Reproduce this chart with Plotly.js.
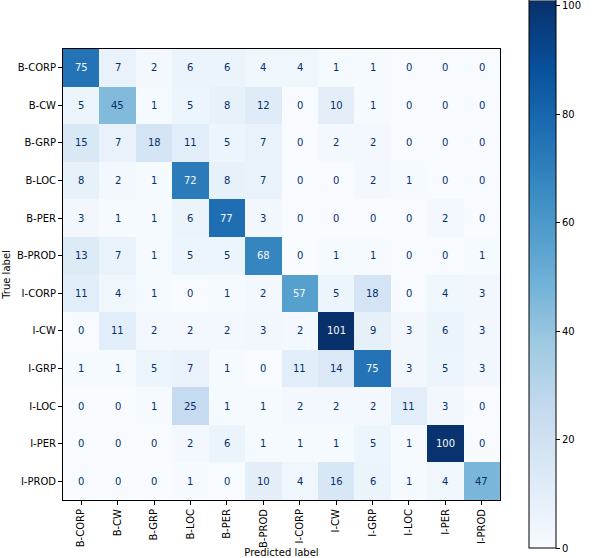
<!DOCTYPE html>
<html>
<head>
<meta charset="utf-8">
<script src="https://cdn.plot.ly/plotly-3.0.1.min.js"></script>
<style>
  body { margin: 0; background: #fff; }
  #chart { width: 594px; height: 558px; }
</style>
</head>
<body>
<div id="chart"></div>
<script>
var labels = ["B-CORP", "B-CW", "B-GRP", "B-LOC", "B-PER", "B-PROD",
              "I-CORP", "I-CW", "I-GRP", "I-LOC", "I-PER", "I-PROD"];

// rows = true label, columns = predicted label
var counts = [
  [75, 7, 2, 6, 6, 4, 4, 1, 1, 0, 0, 0],
  [5, 45, 1, 5, 8, 12, 0, 10, 1, 0, 0, 0],
  [15, 7, 18, 11, 5, 7, 0, 2, 2, 0, 0, 0],
  [8, 2, 1, 72, 8, 7, 0, 0, 2, 1, 0, 0],
  [3, 1, 1, 6, 77, 3, 0, 0, 0, 0, 2, 0],
  [13, 7, 1, 5, 5, 68, 0, 1, 1, 0, 0, 1],
  [11, 4, 1, 0, 1, 2, 57, 5, 18, 0, 4, 3],
  [0, 11, 2, 2, 2, 3, 2, 101, 9, 3, 6, 3],
  [1, 1, 5, 7, 1, 0, 11, 14, 75, 3, 5, 3],
  [0, 0, 1, 25, 1, 1, 2, 2, 2, 11, 3, 0],
  [0, 0, 0, 2, 6, 1, 1, 1, 5, 1, 100, 0],
  [0, 0, 0, 1, 0, 10, 4, 16, 6, 1, 4, 47]
];

var cbTicks = [0, 20, 40, 60, 80, 100];

// matplotlib "Blues"
var blues = [
  [0.0, "#f7fbff"], [0.125, "#deebf7"], [0.25, "#c6dbef"],
  [0.375, "#9ecae1"], [0.5, "#6baed6"], [0.625, "#4292c6"],
  [0.75, "#2171b5"], [0.875, "#08519c"], [1.0, "#08306b"]
];

var flat = [].concat.apply([], counts);
var vmin = Math.min.apply(null, flat);
var vmax = Math.max.apply(null, flat);
var thresh = (vmin + vmax) / 2;

var notes = [];
for (let i = 0; i < counts.length; ++i) {
  for (let j = 0; j < counts[i].length; ++j) {
    notes.push({
      x: labels[j], y: labels[i], text: String(counts[i][j]),
      showarrow: false,
      font: {family: "DejaVu Sans", size: 10,
             color: counts[i][j] > thresh ? "#f7fbff" : "#08306b"}
    });
  }
}

var trace = {
  type: "heatmap",
  x: labels, y: labels, z: counts,
  zmin: vmin, zmax: vmax,
  colorscale: blues,
  xgap: 0, ygap: 0,
  hoverinfo: "skip",
  colorbar: {
    x: 1.067, xanchor: "left", xpad: 0,
    y: 0.5, yanchor: "middle", ypad: 0,
    len: 548, lenmode: "pixels",
    thickness: 27, thicknessmode: "pixels",
    outlinewidth: 1, outlinecolor: "#000",
    tickvals: cbTicks, ticks: "outside", ticklen: 4, tickcolor: "#000",
    tickfont: {family: "DejaVu Sans", size: 10, color: "#000"}
  }
};

var axisCommon = {
  type: "category",
  showgrid: false, zeroline: false,
  showline: true, linecolor: "#000", linewidth: 1, mirror: true,
  ticks: "outside", ticklen: 4, tickcolor: "#000",
  tickfont: {family: "DejaVu Sans", size: 10, color: "#000"}
};

var layout = {
  width: 594, height: 558,
  margin: {l: 63, r: 82, t: 49, b: 58},
  paper_bgcolor: "#fff", plot_bgcolor: "#fff",
  xaxis: Object.assign({}, axisCommon, {
    tickangle: -90,
    title: {text: "Predicted label", standoff: 2,
            font: {family: "DejaVu Sans", size: 10, color: "#000"}}
  }),
  yaxis: Object.assign({}, axisCommon, {
    autorange: "reversed",
    title: {text: "True label", standoff: 4,
            font: {family: "DejaVu Sans", size: 10, color: "#000"}}
  }),
  annotations: notes
};

Plotly.newPlot(document.getElementById("chart"), [trace], layout,
  {displayModeBar: false, staticPlot: true});
</script>
</body>
</html>
